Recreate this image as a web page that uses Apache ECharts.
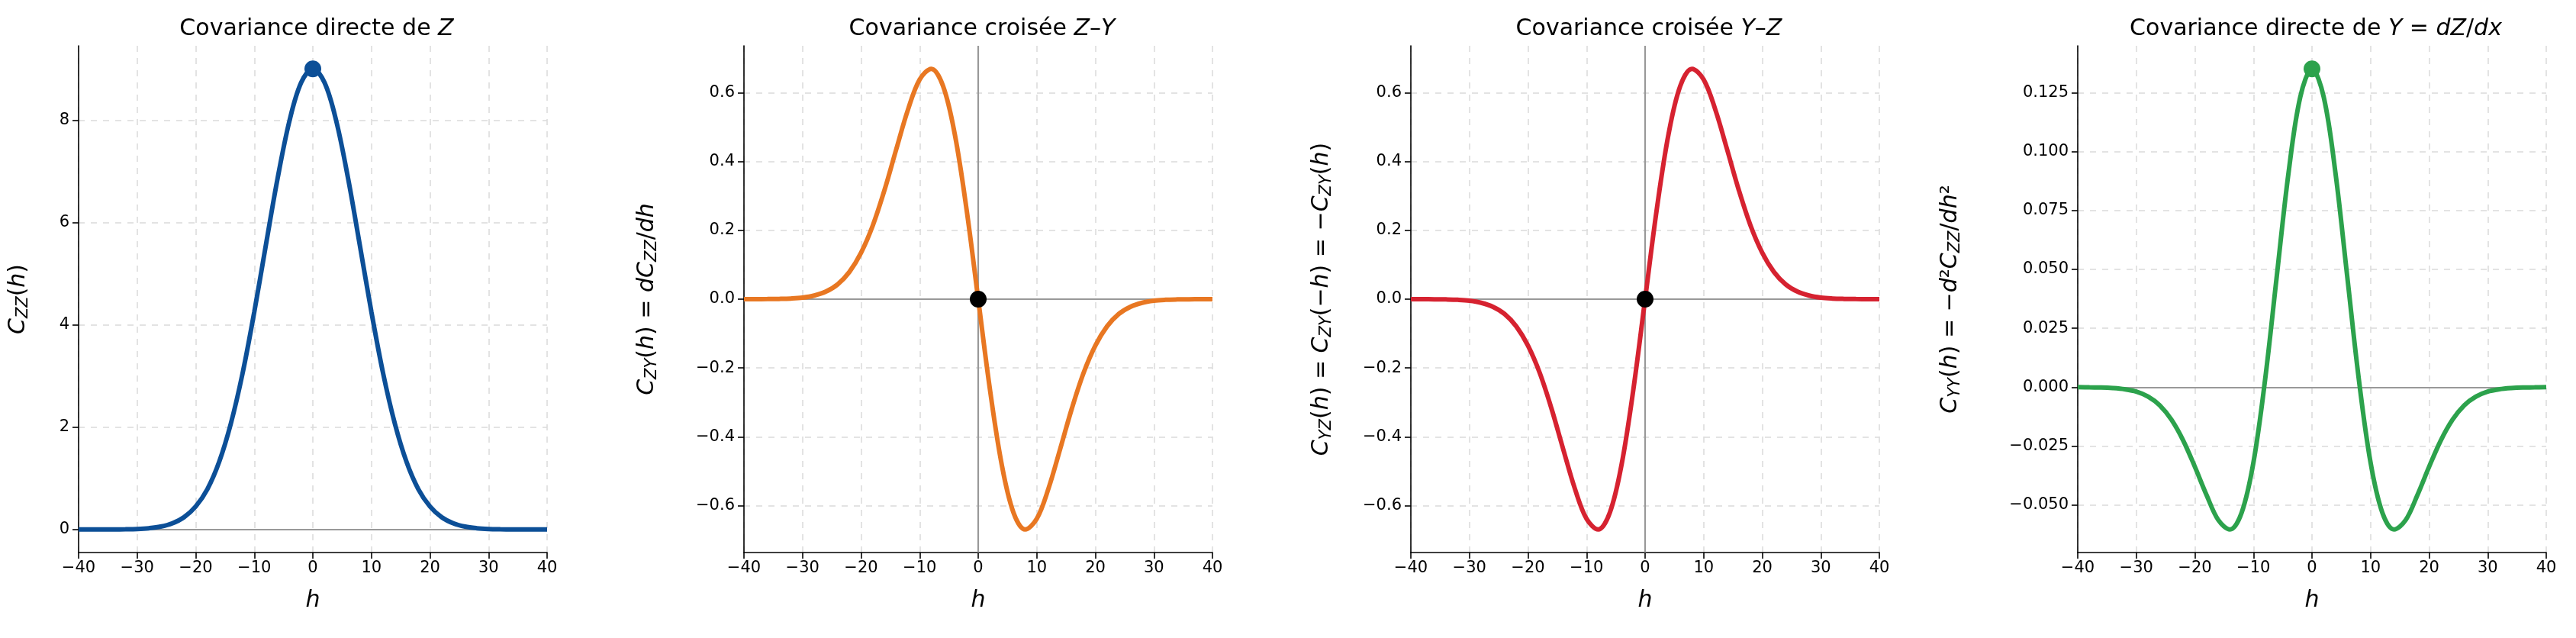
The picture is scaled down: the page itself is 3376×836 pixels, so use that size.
<!DOCTYPE html>
<html><head><meta charset="utf-8">
<script src="https://cdn.jsdelivr.net/npm/echarts@6/dist/echarts.min.js"></script>
<style>html,body{margin:0;background:#fff}#c{width:3376px;height:836px}</style>
</head><body><div id="c"></div>
<script>
const hValues = [-40,-38,-36,-34,-32,-30,-28,-26,-24,-22,-20,-18,-16,-14,-12,-10,-8,-6,-4,-2,0,2,4,6,8,10,12,14,16,18,20,22,24,26,28,30,32,34,36,38,40];
const czzHalf = [9,8.73,7.98,6.87,5.57,4.25,3.05,2.07,1.32,0.79,0.45,0.24,0.12,0.056,0.025,0.010,0.004,0.0015,0.0005,0.0002,0];
const czyHalf = [0,-0.262,-0.479,-0.619,-0.669,-0.638,-0.550,-0.435,-0.317,-0.214,-0.135,-0.079,-0.043,-0.022,-0.0105,-0.0045,-0.0019,-0.0008,-0.0003,-0.0001,0];
const cyyHalf = [0.1351,0.1232,0.0911,0.0474,0.0033,-0.0320,-0.0532,-0.0604,-0.0564,-0.0458,-0.0338,-0.0226,-0.0138,-0.0077,-0.0040,-0.0019,-0.0009,-0.0004,-0.00015,-0.0001,0];
const czz = czzHalf.slice(1).reverse().concat(czzHalf);
const czy = czyHalf.slice(1).reverse().map(v=>-v).concat(czyHalf);
const cyz = czy.map(v=>-v);
const cyy = cyyHalf.slice(1).reverse().concat(cyyHalf);
const yTicks1 = [0,2,4,6,8];
const yTicks2 = [-0.6,-0.4,-0.2,0,0.2,0.4,0.6];
const yTicks4 = [-0.05,-0.025,0,0.025,0.05,0.075,0.1,0.125];

const colors = ['#0c4f97','#e87722','#d62230','#2ca24c'];
const lefts = [103,975,1849,2723];
const W = 614;
const F = 'DejaVu Sans';
const it = {fontStyle:'italic',fontWeight:'normal',fontSize:30,fontFamily:F,color:'#000'};
const nm = {fontWeight:'normal',fontSize:30,fontFamily:F,color:'#000'};
const sub = {fontStyle:'italic',fontWeight:'normal',fontSize:21,fontFamily:F,color:'#000',padding:[12,0,0,0]};
const titles = [
  '{n|Covariance directe de }{i|Z}',
  '{n|Covariance croisée }{i|Z}{n|–}{i|Y}',
  '{n|Covariance croisée }{i|Y}{n|–}{i|Z}',
  '{n|Covariance directe de }{i|Y}{n| = }{i|dZ}{n|/}{i|dx}'
];
const ynames = [
  '{i|C}{s|ZZ}{n|(}{i|h}{n|)}',
  '{i|C}{s|ZY}{n|(}{i|h}{n|) = }{i|dC}{s|ZZ}{n|/}{i|dh}',
  '{i|C}{s|YZ}{n|(}{i|h}{n|) = }{i|C}{s|ZY}{n|(−}{i|h}{n|) = −}{i|C}{s|ZY}{n|(}{i|h}{n|)}',
  '{i|C}{s|YY}{n|(}{i|h}{n|) = −}{i|d}{n|²}{i|C}{s|ZZ}{n|/}{i|dh}{n|²}'
];
const ranges = [[-0.45,9.45],[-0.736,0.736],[-0.736,0.736],[-0.0702,0.1449]];
const yt = [yTicks1,yTicks2,yTicks2,yTicks4];
const datas = [czz,czy,cyz,cyy];
const gaps = [62,110,100,150];
const fmtY = [v=>String(v), v=>v.toFixed(1).replace('-','−'), v=>v.toFixed(1).replace('-','−'), v=>v.toFixed(3).replace('-','−')];

const grid=[],xAxis=[],yAxis=[],series=[],title=[];
for(let i=0;i<4;i++){
  grid.push({left:lefts[i],width:W,top:60,bottom:112});
  title.push({text:titles[i],left:lefts[i]+W/2,textAlign:'center',top:18,textStyle:{fontWeight:'normal',rich:{n:nm,i:it}}});
  xAxis.push({gridIndex:i,type:'value',min:-40,max:40,interval:10,
    name:'{i|h}',nameLocation:'middle',nameGap:48,nameTextStyle:{rich:{i:it}},
    axisLine:{onZero:false,lineStyle:{color:'#000',width:1.6}},
    axisTick:{show:true,length:8,lineStyle:{color:'#000',width:1.6}},
    axisLabel:{fontSize:21,fontFamily:F,color:'#000',margin:10,formatter:v=>String(v).replace('-','−')},
    splitLine:{show:true,lineStyle:{type:[8,8],color:'#dcdcdc',width:1.6}}});
  yAxis.push({gridIndex:i,type:'value',min:ranges[i][0],max:ranges[i][1],
    name:ynames[i],nameLocation:'middle',nameGap:gaps[i],nameRotate:90,nameTextStyle:{rich:{n:nm,i:it,s:sub}},
    axisLine:{show:true,onZero:false,lineStyle:{color:'#000',width:1.6}},
    axisTick:{show:true,length:8,customValues:yt[i],lineStyle:{color:'#000',width:1.6}},
    axisLabel:{fontSize:21,fontFamily:F,color:'#000',margin:12,customValues:yt[i],formatter:fmtY[i]},
    splitLine:{show:true,lineStyle:{type:[8,8],color:'#dcdcdc',width:1.6}}});
  const ml=[{yAxis:0}];
  if(i==1||i==2) ml.push({xAxis:0});
  series.push({type:'line',xAxisIndex:i,yAxisIndex:i,data:hValues.map((h,k)=>[h,datas[i][k]]),
    smooth:0.35,showSymbol:false,lineStyle:{color:colors[i],width:6},itemStyle:{color:colors[i]},z:3,
    markLine:{silent:true,symbol:'none',label:{show:false},lineStyle:{color:'#999',width:2.2,type:'solid'},data:ml,z:1}});
  const pt = (i==1||i==2)?[0,0]:[0,datas[i][20]];
  series.push({type:'scatter',xAxisIndex:i,yAxisIndex:i,data:[pt],symbolSize:22,
    itemStyle:{color:(i==1||i==2)?'#000':colors[i],opacity:1},z:5});
}
const chart=echarts.init(document.getElementById('c'));
chart.setOption({animation:false,backgroundColor:'#fff',title,grid,xAxis,yAxis,series});
</script></body></html>
